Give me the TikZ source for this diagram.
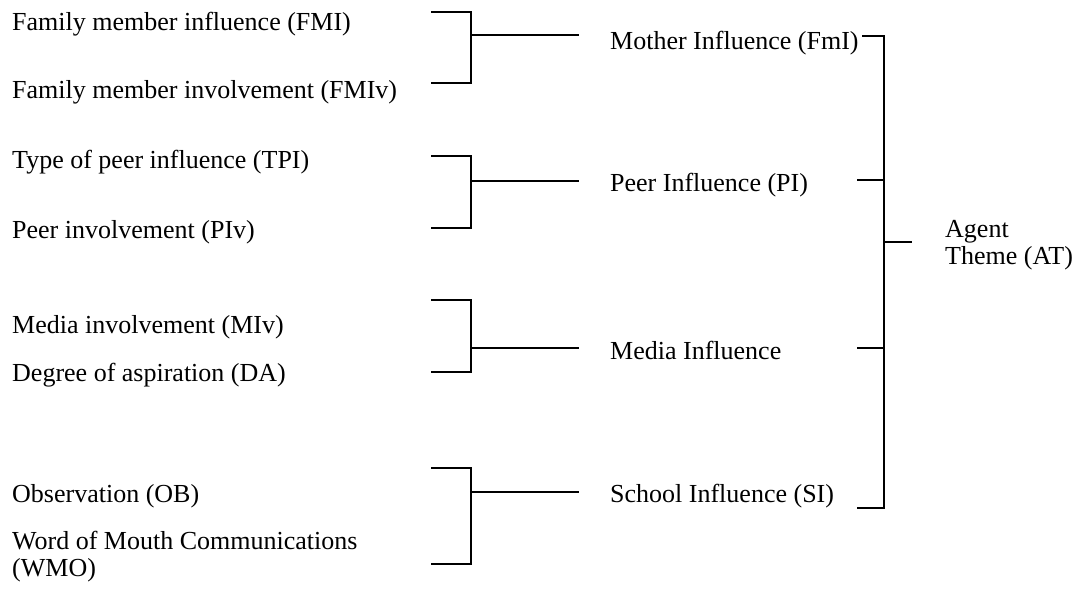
\documentclass[tikz,border=0pt]{standalone}
\usepackage{fontspec}
\setmainfont{Liberation Serif}
\begin{document}
\begin{tikzpicture}[x=1pt,y=-1pt,
  lbl/.style={anchor=base west,inner sep=0pt,font=\fontsize{26}{27}\selectfont},
  link/.style={draw=black,line width=1.6pt}]
\useasboundingbox (0,0) rectangle (1085,608);

% item labels on the left
\node[lbl] (fmi)  at (12,30)  {Family member influence (FMI)};
\node[lbl] (fmiv) at (12,98)  {Family member involvement (FMIv)};
\node[lbl] (tpi)  at (12,168) {Type of peer influence (TPI)};
\node[lbl] (piv)  at (12,238) {Peer involvement (PIv)};
\node[lbl] (miv)  at (12,333) {Media involvement (MIv)};
\node[lbl] (da)   at (12,381) {Degree of aspiration (DA)};
\node[lbl] (ob)   at (12,502) {Observation (OB)};
% base anchor of a two-line node sits on its last line
\node[lbl,align=left] (wmo) at (12,576) {Word of Mouth Communications\\(WMO)};

% influence labels
\node[lbl] (fmI) at (610,49)  {Mother Influence (FmI)};
\node[lbl] (pI)  at (610,191) {Peer Influence (PI)};
\node[lbl] (mI)  at (610,359) {Media Influence};
\node[lbl] (sI)  at (610,502) {School Influence (SI)};

% theme label
\node[lbl,align=left] (at) at (945,264) {Agent\\Theme (AT)};

% bracket geometry: left ends, spine, outgoing stub
\foreach \n/\t/\m/\b in {a/12/35/83, b/156/181/228, c/300/348/372, d/468/492/564}{
  \coordinate (\n-t0) at (431,\t);
  \coordinate (\n-t1) at (471,\t);
  \coordinate (\n-b0) at (431,\b);
  \coordinate (\n-b1) at (471,\b);
  \coordinate (\n-m0) at (471,\m);
  \coordinate (\n-m1) at (579,\m);
  \draw[link] (\n-t0) -- (\n-t1) -- (\n-b1) -- (\n-b0);
  \draw[link] (\n-m0) -- (\n-m1);
}

% outer bracket gathering the four influences
\coordinate (r1) at (862,36);
\coordinate (r1s) at (884,36);
\coordinate (r2) at (857,180);
\coordinate (r2s) at (884,180);
\coordinate (r3) at (857,348);
\coordinate (r3s) at (884,348);
\coordinate (r4) at (857,508);
\coordinate (r4s) at (884,508);
\coordinate (rm) at (884,242);
\coordinate (rm1) at (912,242);
\draw[link] (r1) -- (r1s) -- (r4s) -- (r4);
\draw[link] (r2) -- (r2s);
\draw[link] (r3) -- (r3s);
\draw[link] (rm) -- (rm1);
\end{tikzpicture}
\end{document}
